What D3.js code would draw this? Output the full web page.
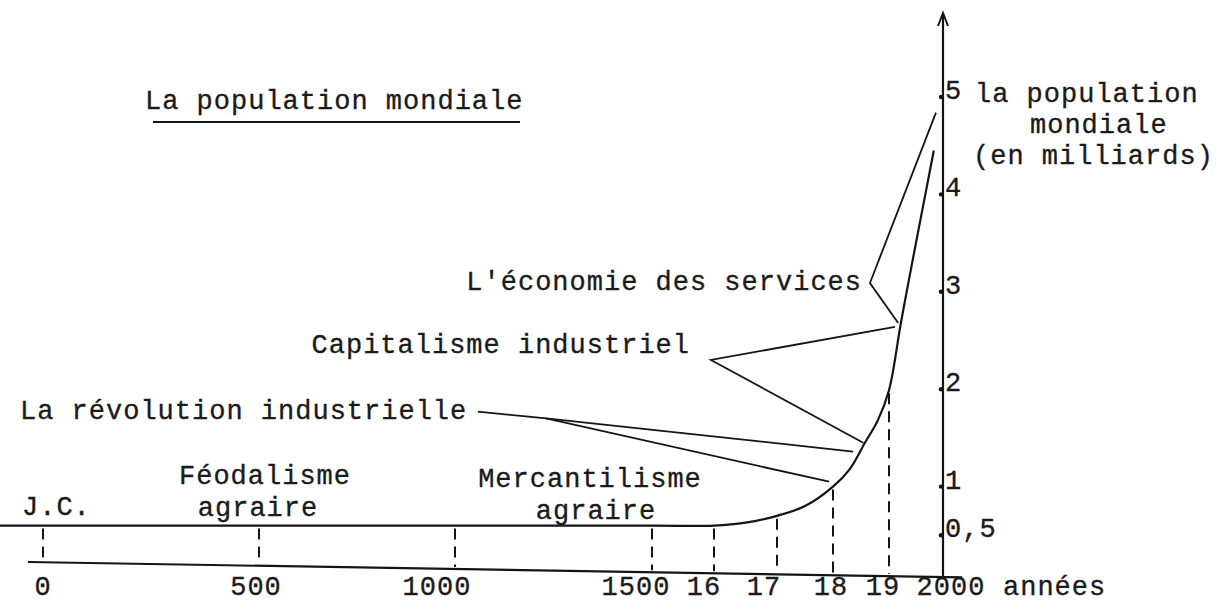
<!DOCTYPE html>
<html><head><meta charset="utf-8">
<script src="https://cdn.jsdelivr.net/npm/d3@7"></script>
<style>
html,body{margin:0;padding:0;background:#fff;}
svg{display:block;}
text{font-family:"Liberation Mono","DejaVu Sans Mono",monospace;fill:#1b1b1b;stroke:#1b1b1b;stroke-width:0.35px;letter-spacing:1px;}
</style></head>
<body><svg id="c" width="1222" height="609"></svg>
<script>
// ---- data ----
const yearTicks = [0, 500, 1000, 1500, 1600, 1700, 1800, 1900, 2000];
const yearTickLabels = ["0", "500", "1000", "1500", "16", "17", "18", "19", "2000"];
const valueTicks = [0.5, 1, 2, 3, 4, 5];
const valueTickLabels = ["0,5", "1", "2", "3", "4", "5"];
const popYears  = [-100, 1500, 1600, 1650, 1700, 1750, 1800, 1830, 1857, 1880, 1900, 1922, 1944, 1983];
const popValues = [0.6, 0.6, 0.6, 0.63, 0.70, 0.80, 1.0, 1.18, 1.45, 1.68, 1.99, 2.68, 3.33, 4.45];
const dashYears = [0, 500, 1000, 1500, 1600, 1700, 1800, 1900];
const eraLabels = ["L'économie des services", "Capitalisme industriel", "La révolution industrielle"];
// leader lines, in (year, value)
const leaderServices = [[1987, 4.84], [1866, 3.09], [1917, 2.68]];
const leaderCapital  = [[1911, 2.64], [1595, 2.30], [1854, 1.45]];
const leaderRevA     = [[1058, 1.77], [1231, 1.70], [1836, 1.36]];
const leaderRevB     = [[1231, 1.70], [1793, 1.05]];

// ---- scales ----
const xRange = [43, 259, 455, 652, 714, 777, 833, 889, 943];
const x = d3.scaleLinear().domain(yearTicks).range(xRange);
const y = d3.scaleLinear().domain([0, 5]).range([584, 97]);

const svg = d3.select("#c");
const FS = 27;
const ink = "#141414";

// title
svg.append("text").attr("x", 145).attr("y", 109).attr("font-size", FS).text("La population mondiale");
svg.append("line").attr("x1", 153).attr("x2", 520).attr("y1", 122).attr("y2", 122)
  .attr("stroke", ink).attr("stroke-width", 2);

// x axis (slightly skewed like the scan)
const axisY = xx => 562 + (xx - 28) * (577 - 562) / (943 - 28);
svg.append("line").attr("x1", 28).attr("y1", axisY(28)).attr("x2", 962).attr("y2", axisY(962))
  .attr("stroke", ink).attr("stroke-width", 2.2);

// y axis
const yAxisX = x(2000);
svg.append("line").attr("x1", yAxisX).attr("x2", yAxisX).attr("y1", axisY(yAxisX)).attr("y2", 14)
  .attr("stroke", ink).attr("stroke-width", 2.2);
svg.append("path").attr("d", `M${yAxisX-5},${26} L${yAxisX},${13} L${yAxisX+5},${26}`)
  .attr("fill", "none").attr("stroke", ink).attr("stroke-width", 2);

// y ticks
valueTicks.forEach((v, i) => {
  svg.append("circle").attr("cx", yAxisX - 2).attr("cy", y(v)).attr("r", 2.2).attr("fill", ink);
  svg.append("text").attr("x", yAxisX + 2).attr("y", y(v) + 2).attr("font-size", FS).text(valueTickLabels[i]);
});
// y axis title
svg.append("text").attr("x", 975).attr("y", 102).attr("font-size", FS).text("la population");
svg.append("text").attr("x", 1030).attr("y", 133).attr("font-size", FS).text("mondiale");
svg.append("text").attr("x", 973).attr("y", 164).attr("font-size", FS).text("(en milliards)");

// x tick labels
const labelShift = {"0": 0, "500": -3, "1000": -18, "1500": -16, "16": -10, "17": -13, "18": -2, "19": -6, "2000": 8};
yearTicks.forEach((t, i) => {
  svg.append("text").attr("x", x(t) + (labelShift[yearTickLabels[i]] || 0)).attr("y", 595)
    .attr("text-anchor", "middle").attr("font-size", FS).text(yearTickLabels[i]);
});
svg.append("text").attr("x", 1003).attr("y", 595).attr("font-size", FS).text("années");

// population curve
const pop = popYears.map((yr, i) => [yr, popValues[i]]);
const popAt = yr => {
  for (let i = 1; i < pop.length; i++) if (yr <= pop[i][0]) {
    const a = pop[i-1], b = pop[i]; return a[1] + (b[1]-a[1]) * (yr - a[0]) / (b[0]-a[0]);
  }
  return pop[pop.length-1][1];
};
// dashed verticals
dashYears.forEach(t => {
  svg.append("line").attr("x1", x(t)).attr("x2", x(t)).attr("y1", y(popAt(t)) + 3).attr("y2", axisY(x(t)) - 2)
    .attr("stroke", ink).attr("stroke-width", 2).attr("stroke-dasharray", "11,7");
});
const line = d3.line().x(d => x(d[0])).y(d => y(d[1])).curve(d3.curveCatmullRom.alpha(0.5));
svg.append("path").attr("d", line(pop)).attr("fill", "none").attr("stroke", ink).attr("stroke-width", 2.2);

// leaders
const lead = d3.line().x(d => x(d[0])).y(d => y(d[1]));
[leaderServices, leaderCapital, leaderRevA, leaderRevB].forEach(pts => {
  svg.append("path").attr("d", lead(pts)).attr("fill", "none").attr("stroke", ink).attr("stroke-width", 1.8);
});

// era labels
svg.append("text").attr("x", 862).attr("y", 290).attr("text-anchor", "end").attr("font-size", FS).text(eraLabels[0]);
svg.append("text").attr("x", 690).attr("y", 353).attr("text-anchor", "end").attr("font-size", FS).text(eraLabels[1]);
svg.append("text").attr("x", 20).attr("y", 419).attr("font-size", FS).text(eraLabels[2]);
svg.append("text").attr("x", 22).attr("y", 515).attr("font-size", FS).text("J.C.");
svg.append("text").attr("x", 265).attr("y", 484).attr("text-anchor", "middle").attr("font-size", FS).text("Féodalisme");
svg.append("text").attr("x", 258).attr("y", 516).attr("text-anchor", "middle").attr("font-size", FS).text("agraire");
svg.append("text").attr("x", 590).attr("y", 487).attr("text-anchor", "middle").attr("font-size", FS).text("Mercantilisme");
svg.append("text").attr("x", 596).attr("y", 519).attr("text-anchor", "middle").attr("font-size", FS).text("agraire");
</script></body></html>
